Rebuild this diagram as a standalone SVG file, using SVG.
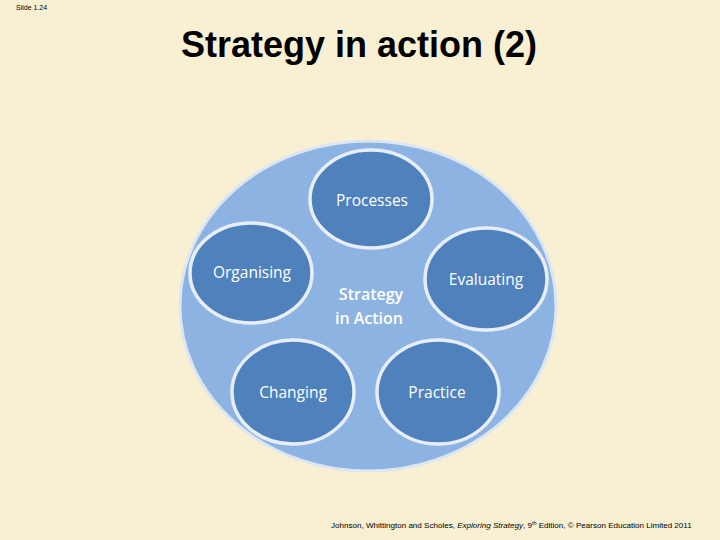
<svg xmlns="http://www.w3.org/2000/svg" width="720" height="540" viewBox="0 0 720 540">
<style>
.bg{fill:#F9F0D3}
.outer{fill:#8DB3E2;stroke:#DCE6F2;stroke-width:3}
.node{fill:#4F81BD;stroke:#E8EEF7;stroke-width:3.5}
.lbl{font-family:"Open Sans","Noto Sans",sans-serif;font-size:15.5px;fill:#FFFFFF;text-anchor:middle}
.ctr{font-family:"Open Sans","Noto Sans",sans-serif;font-size:16px;font-weight:600;fill:#FFFFFF;text-anchor:middle}
.title{font-family:"Liberation Sans",Arial,sans-serif;font-size:36px;font-weight:bold;fill:#000000;text-anchor:middle}
.small{font-family:"Liberation Sans",Arial,sans-serif;fill:#000000}
</style>
<rect class="bg" x="0" y="0" width="720" height="540"/>
<text class="small" x="16" y="10" font-size="7">Slide 1.24</text>
<text class="title" x="359" y="57">Strategy in action (2)</text>
<g id="strategy-in-action">
<ellipse class="outer" cx="368" cy="306" rx="188" ry="165"/>
<text class="ctr" x="371" y="300">Strategy</text>
<text class="ctr" x="369" y="324">in Action</text>
</g>
<g id="connectors"></g>
<g id="processes">
<ellipse class="node" cx="371" cy="199" rx="61" ry="49"/>
<text class="lbl" x="372" y="206">Processes</text>
</g>
<g id="organising">
<ellipse class="node" cx="251" cy="273" rx="61" ry="50"/>
<text class="lbl" x="252" y="278">Organising</text>
</g>
<g id="evaluating">
<ellipse class="node" cx="486" cy="279" rx="61" ry="51"/>
<text class="lbl" x="486" y="285">Evaluating</text>
</g>
<g id="changing">
<ellipse class="node" cx="293" cy="392" rx="61" ry="52"/>
<text class="lbl" x="293" y="398">Changing</text>
</g>
<g id="practice">
<ellipse class="node" cx="438" cy="392" rx="61" ry="52"/>
<text class="lbl" x="437" y="398">Practice</text>
</g>
<text class="small" x="331" y="528" font-size="8.05">Johnson, Whittington and Scholes, <tspan font-style="italic">Exploring Strategy</tspan>, 9<tspan font-size="5.5" dy="-3">th</tspan><tspan dy="3"> Edition, © Pearson Education Limited 2011</tspan></text>
</svg>
